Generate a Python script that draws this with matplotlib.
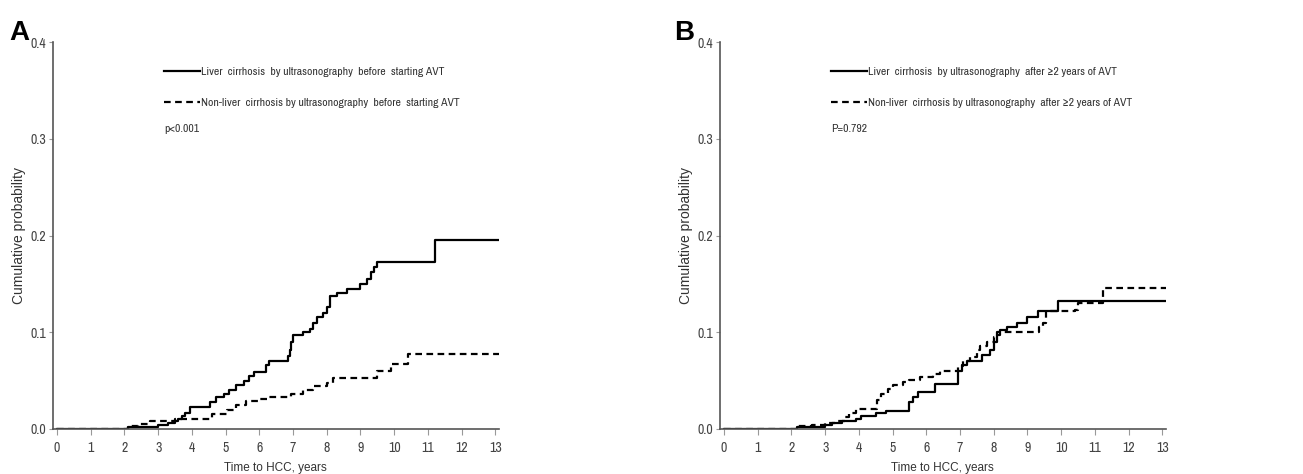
import numpy as np
import matplotlib
matplotlib.use("Agg")
import matplotlib.pyplot as plt
from matplotlib import font_manager

# panel A: cirrhosis status before starting AVT
a_lc_t = [0, 2.1, 3.0, 3.3, 3.5, 3.6, 3.7, 3.8, 3.95, 4.55, 4.7, 4.95, 5.1, 5.3, 5.55, 5.7, 5.85, 6.2, 6.3,
          6.85, 6.9, 6.95, 7.0, 7.3, 7.5, 7.6, 7.7, 7.9, 8.0, 8.1, 8.3, 8.6, 9.0, 9.2, 9.3, 9.4, 9.5, 11.2, 13.1]
a_lc_p = [0, 0.002, 0.004, 0.006, 0.008, 0.010, 0.013, 0.017, 0.023, 0.028, 0.033, 0.036, 0.040, 0.045, 0.050, 0.055,
          0.059, 0.066, 0.070, 0.075, 0.082, 0.090, 0.097, 0.100, 0.103, 0.110, 0.116, 0.120, 0.126, 0.137, 0.141,
          0.145, 0.150, 0.155, 0.162, 0.168, 0.173, 0.195, 0.195]
a_nlc_t = [0, 2.1, 2.4, 2.75, 3.5, 4.6, 5.05, 5.3, 5.6, 6.0, 6.3, 6.95, 7.3, 7.6, 8.0, 8.2, 9.5, 9.9, 10.4, 13.1]
a_nlc_p = [0, 0.003, 0.005, 0.008, 0.010, 0.015, 0.020, 0.025, 0.029, 0.031, 0.033, 0.036, 0.040, 0.044, 0.048,
           0.053, 0.060, 0.067, 0.078, 0.078]

# panel B: cirrhosis status after >=2 years of AVT
b_lc_t = [0, 2.15, 3.0, 3.2, 3.5, 3.9, 4.05, 4.5, 4.8, 5.5, 5.6, 5.75, 6.25, 6.95, 7.05, 7.2, 7.65, 7.9, 8.0,
          8.1, 8.2, 8.4, 8.7, 9.0, 9.3, 9.9, 13.1]
b_lc_p = [0, 0.002, 0.004, 0.006, 0.008, 0.010, 0.013, 0.016, 0.019, 0.028, 0.033, 0.038, 0.047, 0.060, 0.066,
          0.070, 0.077, 0.082, 0.090, 0.097, 0.102, 0.105, 0.110, 0.116, 0.122, 0.132, 0.132]
b_nlc_t = [0, 2.15, 2.6, 3.0, 3.3, 3.6, 3.7, 3.9, 4.55, 4.65, 4.85, 5.0, 5.3, 5.5, 5.8, 6.2, 6.4, 6.95, 7.1, 7.3,
           7.5, 7.6, 7.8, 8.0, 8.1, 9.35, 9.45, 9.55, 10.4, 10.5, 11.25, 13.1]
b_nlc_p = [0, 0.003, 0.004, 0.006, 0.008, 0.012, 0.016, 0.021, 0.030, 0.036, 0.041, 0.045, 0.049, 0.051, 0.054,
           0.057, 0.060, 0.065, 0.070, 0.074, 0.082, 0.086, 0.090, 0.095, 0.100, 0.105, 0.110, 0.122, 0.123, 0.130,
           0.146, 0.146]

panels = [
    ("A", a_lc_t, a_lc_p, a_nlc_t, a_nlc_p,
     "Liver  cirrhosis  by ultrasonography  before  starting AVT",
     "Non-liver  cirrhosis by ultrasonography  before  starting AVT", "p<0.001"),
    ("B", b_lc_t, b_lc_p, b_nlc_t, b_nlc_p,
     "Liver  cirrhosis  by ultrasonography  after \u22652 years of AVT",
     "Non-liver  cirrhosis by ultrasonography  after \u22652 years of AVT", "P=0.792"),
]

# the original uses a condensed face; take one if there is any
installed = sorted({f.name for f in font_manager.fontManager.ttflist})
cond = [n for n in installed if "Narrow" in n or "Condensed" in n]
if cond:
    narrow = [cond[0], "DejaVu Sans"]
    leg_size, tick_size = 8.4, 10
else:
    narrow = ["Liberation Sans", "DejaVu Sans"]
    leg_size, tick_size = 6.3, 8
plain = ["Liberation Sans", "DejaVu Sans"]

fig = plt.figure(figsize=(13.03, 4.74), dpi=100)
lefts = [0.0407, 0.5526]
width = 0.342
letter_x = [0.007, 0.517]

for i, (letter, t1, p1, t2, p2, lab1, lab2, ptxt) in enumerate(panels):
    ax = fig.add_axes([lefts[i], 0.095, width, 0.816])
    ax.step(t1, p1, where="post", color="black", lw=1.6, label=lab1)
    ax.step(t2, p2, where="post", color="black", lw=1.6, dashes=(3, 2), label=lab2)
    ax.set_xlim(-0.12, 13.1)
    ax.set_ylim(0, 0.4)
    ax.set_xticks(np.arange(0, 14))
    ax.set_yticks([0, 0.1, 0.2, 0.3, 0.4])
    ax.set_yticklabels(["0.0", "0.1", "0.2", "0.3", "0.4"])
    for s in ["top", "right"]:
        ax.spines[s].set_visible(False)
    ax.spines["left"].set_color("#555555")
    ax.spines["bottom"].set_color("#555555")
    ax.spines["left"].set_linewidth(1.2)
    ax.spines["bottom"].set_linewidth(1.2)
    ax.tick_params(axis="both", direction="out", length=3, width=0.8, color="#999999",
                   labelsize=tick_size, pad=2)
    ax.tick_params(axis="x", length=4, pad=5)
    for lbl in ax.get_xticklabels() + ax.get_yticklabels():
        lbl.set_family(narrow)
        lbl.set_color("#444444")
    ax.set_xlabel("Time to HCC, years", family=plain, fontsize=8.5, color="#333333", labelpad=5)
    ax.set_ylabel("Cumulative probability", family=plain, fontsize=10, color="#333333", labelpad=3)
    leg = ax.legend(loc="upper left", bbox_to_anchor=(0.249, 0.936), frameon=False, borderpad=0,
                    borderaxespad=0, handlelength=3.1, handletextpad=0.1, labelspacing=1.75,
                    prop={"family": narrow, "size": leg_size})
    for txt in leg.get_texts():
        txt.set_color("#333333")
    ax.text(0.249, 0.775, ptxt, transform=ax.transAxes, ha="left", va="center",
            family=narrow, fontsize=leg_size, color="#333333")
    fig.text(letter_x[i], 0.958, letter, ha="left", va="top", fontsize=20, fontweight="bold", family=plain)

fig.savefig("out.png", dpi=100)
